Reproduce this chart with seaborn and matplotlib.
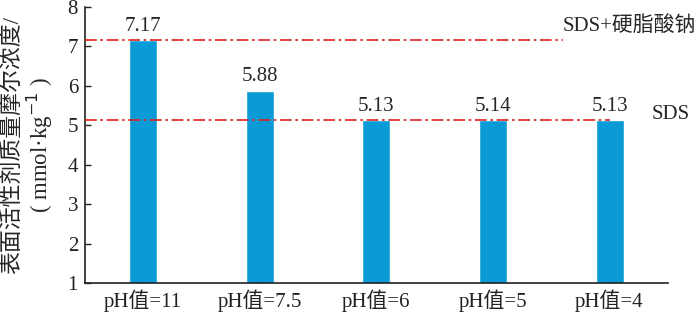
import matplotlib
matplotlib.use("Agg")
import matplotlib.pyplot as plt
import seaborn as sns
import pandas as pd

# Surfactant concentration at each pH
categories = ["pH值=11", "pH值=7.5", "pH值=6", "pH值=5", "pH值=4"]
concentration = [7.17, 5.88, 5.13, 5.14, 5.13]

# Reference levels
ref_mixed = 7.17   # SDS + sodium stearate
ref_sds = 5.13     # SDS only
ref_labels = ["SDS+硬脂酸钠", "SDS"]

y_ticks = [1, 2, 3, 4, 5, 6, 7, 8]

sns.set_theme(style="white")
plt.rcParams["font.family"] = ["Liberation Serif", "Noto Sans CJK SC", "DejaVu Sans"]

df = pd.DataFrame({"ph": categories, "value": concentration})

fig = plt.figure(figsize=(7.0, 3.24), dpi=100)
ax = fig.add_axes([0.1214, 0.1265, 0.8326, 0.8519])

sns.barplot(data=df, x="ph", y="value", color="#0A9BD7", saturation=1,
            width=0.24, ax=ax, zorder=2)

ax.bar_label(ax.containers[0], labels=[f"{v:.2f}" for v in concentration],
             padding=3, fontsize=15)

dash = (0, (7, 2.2, 1.6, 2.2))
ax.plot([-0.5, 3.6], [ref_mixed, ref_mixed], color="#E02020", lw=1.2,
        linestyle=dash, zorder=3)
ax.plot([-0.5, 4.0], [ref_sds, ref_sds], color="#E02020", lw=1.2,
        linestyle=dash, zorder=3)
ax.text(3.6, 7.52, ref_labels[0], fontsize=15, va="center", ha="left", clip_on=False)
ax.text(4.36, 5.28, ref_labels[1], fontsize=15, va="center", ha="left", clip_on=False)

ax.set_xlim(-0.5, 4.5)
ax.set_ylim(1, 8)
ax.set_yticks(y_ticks)
ax.set_xlabel("")
ax.set_ylabel("表面活性剂质量摩尔浓度/\n( mmol·kg$^{-1}$ )", fontsize=16.5,
              linespacing=1.05)
ax.yaxis.set_label_coords(-0.052, 0.5)

for side in ["top", "right"]:
    ax.spines[side].set_visible(False)
for side in ["left", "bottom"]:
    ax.spines[side].set_color("#222222")
    ax.spines[side].set_linewidth(1.2)

ax.tick_params(axis="both", direction="in", length=4, width=1.0,
               color="#222222", labelsize=15, labelcolor="#222222")
ax.tick_params(axis="y", pad=5)
ax.tick_params(axis="x", pad=5)
ax.tick_params(left=True, bottom=True)

fig.savefig("out.png", dpi=100)
